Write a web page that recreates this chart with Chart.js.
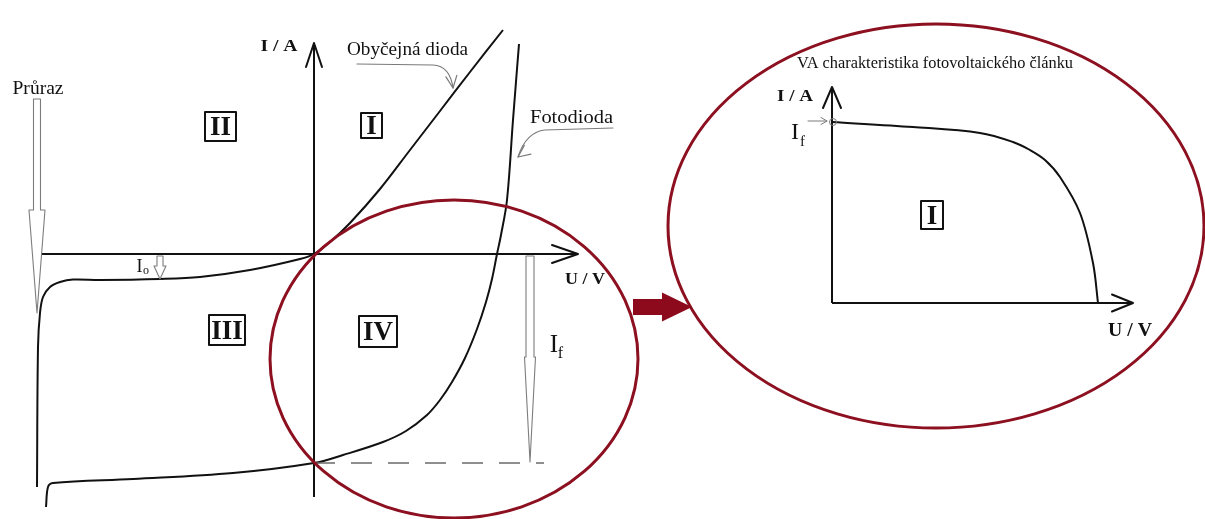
<!DOCTYPE html>
<html><head><meta charset="utf-8">
<script src="https://cdn.jsdelivr.net/npm/chart.js@4/dist/chart.umd.min.js"></script>
<style>html,body{margin:0;padding:0;background:#fff}canvas{display:block}</style>
</head><body>
<canvas id="c" width="1205" height="519"></canvas>
<script>
// ---- Left diagram (general VA characteristic), arbitrary units U, I ----
const diodeU = [-27.7,-27.6,-27.4,-27.1,-26.4,-25.4,-24.1,-21.4,-15.4,-11.4,-6.4,-1.4,0,1.6,3.6,6.6,9.6,12.6,15.6,18.9];
const diodeI = [-23.3,-9.3,-5.9,-4.3,-3.3,-2.8,-2.55,-2.6,-2.5,-2.3,-1.6,-0.5,0,1.2,3.1,6.5,10.4,14.3,18.2,22.4];
const photoU = [-26.8,-26.6,-26.1,-18.1,-8.1,0,2.9,6.9,9.2,11.3,12.6,13.8,15.1,16.3,17.2,17.8,18.3,18.7,19.3,19.9,20.5];
const photoI = [-25.3,-23.3,-22.9,-22.5,-21.9,-20.9,-20.1,-18.8,-17.7,-16.1,-14.6,-12.8,-10.4,-7.5,-4.8,-2.5,0,1.9,5.4,13.4,21.0];
const photoIf = -20.9;             // photocurrent level (dashed line)
const ifLineU = [0, 23.0];         // extent of the dashed If line
const leftUAxis = [-27.4, 26.4];
const leftIAxis = [-24.3, 21.1];

// ---- Right diagram (photovoltaic cell) ----
const cellU = [0,8.1,14.8,18.1,19.8,21.3,22.8,24.8,26.1,26.6];
const cellI = [18.1,17.6,17.0,16.1,15.3,14.3,12.6,9.0,4.0,0];
const rightUAxis = [0, 30.1];
const rightIAxis = [0, 21.6];

const pts = (xs, ys) => xs.map((x, k) => ({x, y: ys[k]}));
const FONT = '"Liberation Serif","Times New Roman",serif';

function txt(ctx, s, p, size, bold, width){
  ctx.save();
  ctx.font = (bold ? 'bold ' : '') + size + 'px ' + FONT;
  const w = ctx.measureText(s).width;
  const sx = width ? width / w : 1;
  ctx.translate(p[0], p[1] + size * 0.33);
  ctx.scale(sx, 1);
  ctx.textAlign = 'center'; ctx.textBaseline = 'alphabetic';
  ctx.fillStyle = '#111';
  ctx.fillText(s, 0, 0);
  ctx.restore();
}
function openHead(ctx, tip, from, len, hw){
  const dx = tip[0]-from[0], dy = tip[1]-from[1], d = Math.hypot(dx, dy);
  const ux = dx/d, uy = dy/d, px = -uy, py = ux;
  const bx = tip[0]-ux*len, by = tip[1]-uy*len;
  ctx.beginPath();
  ctx.moveTo(bx+px*hw, by+py*hw); ctx.lineTo(tip[0], tip[1]); ctx.lineTo(bx-px*hw, by-py*hw);
  ctx.stroke();
}
function hollowArrow(ctx, cx, top, hs, tip, s, h){
  ctx.save();
  ctx.beginPath();
  ctx.moveTo(cx-s, top); ctx.lineTo(cx+s, top); ctx.lineTo(cx+s, hs); ctx.lineTo(cx+h, hs);
  ctx.lineTo(cx, tip); ctx.lineTo(cx-h, hs); ctx.lineTo(cx-s, hs); ctx.closePath();
  ctx.fillStyle = '#fff'; ctx.fill();
  ctx.strokeStyle = '#7d7d7d'; ctx.lineWidth = 1.1; ctx.stroke();
  ctx.restore();
}
function box(ctx, p, w, h, label){
  ctx.save();
  ctx.strokeStyle = '#111'; ctx.lineWidth = 2;
  ctx.strokeRect(p[0]-w/2, p[1]-h/2, w, h);
  ctx.restore();
  txt(ctx, label, p, 27, true);
}

const deco = {
  id: 'deco',
  afterDatasetsDraw(chart){
    const ctx = chart.ctx, s = chart.scales;
    const L = (u, i) => [s.xL.getPixelForValue(u), s.yL.getPixelForValue(i)];
    const R = (u, i) => [s.xR.getPixelForValue(u), s.yR.getPixelForValue(i)];
    ctx.save();
    ctx.lineCap = 'round'; ctx.lineJoin = 'round';
    // axis arrowheads
    ctx.strokeStyle = '#111'; ctx.lineWidth = 2;
    openHead(ctx, L(0, leftIAxis[1]), L(0, 0), 24, 8);
    openHead(ctx, L(leftUAxis[1], 0), L(0, 0), 26, 9);
    openHead(ctx, R(0, rightIAxis[1]), R(0, 0), 21, 9);
    openHead(ctx, R(rightUAxis[1], 0), R(0, 0), 21, 8.5);

    // hollow arrows: Průraz, Io, If
    let a = L(-27.7, 15.5), b = L(-27.7, 4.4), t = L(-27.7, -5.9);
    hollowArrow(ctx, a[0], a[1], b[1], t[1], 3.5, 8);
    a = L(-15.4, -0.2); b = L(-15.4, -1.2); t = L(-15.4, -2.5);
    hollowArrow(ctx, a[0], a[1], b[1], t[1], 3, 6);
    a = L(21.6, -0.2); b = L(21.6, -10.3); t = L(21.6, photoIf + 0.1);
    hollowArrow(ctx, a[0], a[1], b[1], t[1], 4, 5.5);

    // label pointers
    ctx.strokeStyle = '#7a7a7a'; ctx.lineWidth = 1.2;
    let p0 = L(4.3, 19.0), p1 = L(11.9, 18.9), c = L(13.6, 18.8), p2 = L(13.9, 16.6);
    ctx.beginPath(); ctx.moveTo(...p0); ctx.lineTo(...p1); ctx.quadraticCurveTo(...c, ...p2); ctx.stroke();
    openHead(ctx, p2, c, 12, 5.5);
    p0 = L(29.9, 12.6); p1 = L(23.1, 12.4); c = L(21.2, 12.2); p2 = L(20.4, 9.7);
    ctx.beginPath(); ctx.moveTo(...p0); ctx.lineTo(...p1); ctx.quadraticCurveTo(...c, ...p2); ctx.stroke();
    openHead(ctx, p2, L(21.6, 10.6), 12, 5.5);
    // right If pointer and marker circle
    ctx.lineWidth = 1;
    p0 = R(-2.4, 18.2); p1 = R(-0.5, 18.2);
    ctx.beginPath(); ctx.moveTo(...p0); ctx.lineTo(...p1); ctx.stroke();
    openHead(ctx, p1, p0, 6, 3.5);
    const cc = R(0.1, 18.1);
    ctx.beginPath(); ctx.arc(cc[0], cc[1], 3.5, 0, Math.PI*2); ctx.stroke();

    // texts
    txt(ctx, 'I / A', L(-3.5, 20.9), 17, true, 37);
    txt(ctx, 'U / V', L(27.1, -2.4), 17, true, 40);
    txt(ctx, 'Průraz', L(-27.6, 16.55), 18, false, 51);
    txt(ctx, 'Obyčejná dioda', L(9.35, 20.45), 18, false, 121);
    txt(ctx, 'Fotodioda', L(25.75, 13.75), 19, false, 83);
    txt(ctx, 'I', L(-17.45, -1.25), 18, false);
    txt(ctx, 'o', L(-16.8, -1.65), 12, false);
    txt(ctx, 'I', L(24.0, -8.95), 25, false);
    txt(ctx, 'f', L(24.65, -9.85), 16, false);
    box(ctx, L(-9.35, 12.75), 31, 29, 'II');
    box(ctx, L(5.75, 12.85), 21, 25, 'I');
    box(ctx, L(-8.7, -7.6), 36, 30, 'III');
    box(ctx, L(6.4, -7.75), 38, 31, 'IV');

    txt(ctx, 'VA charakteristika fotovoltaického článku', R(10.3, 24.0), 16, false, 276);
    txt(ctx, 'I / A', R(-3.7, 20.8), 17, true, 36);
    txt(ctx, 'U / V', R(29.8, -2.7), 18, true, 44);
    txt(ctx, 'I', R(-3.7, 17.15), 24, false);
    txt(ctx, 'f', R(-2.95, 16.2), 15, false);
    box(ctx, R(10.0, 8.8), 22, 28, 'I');

    // red ellipses
    ctx.strokeStyle = '#8c1020'; ctx.lineWidth = 3;
    let e = L(14.0, -10.5), ex = L(14.0 + 18.4, -10.5 + 15.9);
    ctx.beginPath(); ctx.ellipse(e[0], e[1], ex[0]-e[0], e[1]-ex[1], 0, 0, Math.PI*2); ctx.stroke();
    e = R(10.4, 7.7); ex = R(10.4 + 26.8, 7.7 + 20.2);
    ctx.beginPath(); ctx.ellipse(e[0], e[1], ex[0]-e[0], e[1]-ex[1], 0, 0, Math.PI*2); ctx.stroke();
    // big red arrow
    const s0 = L(31.9, -5.3 + 0.8), s1 = L(34.8, -5.3 - 0.8), h0 = L(34.8, -5.3 + 1.45), h1 = L(34.8, -5.3 - 1.45), tp = L(37.8, -5.3);
    ctx.beginPath();
    ctx.moveTo(s0[0], s0[1]); ctx.lineTo(s1[0], s0[1]); ctx.lineTo(h0[0], h0[1]); ctx.lineTo(tp[0], tp[1]);
    ctx.lineTo(h1[0], h1[1]); ctx.lineTo(s1[0], s1[1]); ctx.lineTo(s0[0], s1[1]); ctx.closePath();
    ctx.fillStyle = '#8c0a1c'; ctx.fill();
    ctx.restore();
  }
};

const line = (data, ax, extra) => Object.assign({
  data, xAxisID: ax[0], yAxisID: ax[1], showLine: true, pointRadius: 0,
  borderColor: '#111', borderWidth: 2, fill: false, tension: 0
}, extra || {});
const LA = ['xL', 'yL'], RA = ['xR', 'yR'];

new Chart(document.getElementById('c'), {
  type: 'scatter',
  data: { datasets: [
    line([{x: leftUAxis[0], y: 0}, {x: leftUAxis[1], y: 0}], LA),
    line([{x: 0, y: leftIAxis[0]}, {x: 0, y: leftIAxis[1]}], LA),
    line([{x: ifLineU[0], y: photoIf}, {x: ifLineU[1], y: photoIf}], LA, {borderColor: '#6a6a6a', borderWidth: 1.5, borderDash: [21, 16]}),
    line(pts(diodeU, diodeI), LA, {tension: 0.35}),
    line(pts(photoU, photoI), LA, {tension: 0.35}),
    line([{x: rightUAxis[0], y: 0}, {x: rightUAxis[1], y: 0}], RA),
    line([{x: 0, y: rightIAxis[0]}, {x: 0, y: rightIAxis[1]}], RA),
    line(pts(cellU, cellI), RA, {tension: 0.35})
  ]},
  options: {
    responsive: false, animation: false, events: [],
    layout: { padding: 0, autoPadding: false },
    plugins: { legend: {display: false}, tooltip: {enabled: false} },
    scales: {
      xL: { type: 'linear', display: false, min: -31.4, max: 89.1 },
      yL: { type: 'linear', display: false, min: -26.5, max: 25.4 },
      xR: { type: 'linear', display: false, min: -83.2, max: 37.3 },
      yR: { type: 'linear', display: false, min: -21.6, max: 30.3 }
    }
  },
  plugins: [deco]
});
</script>
</body></html>
